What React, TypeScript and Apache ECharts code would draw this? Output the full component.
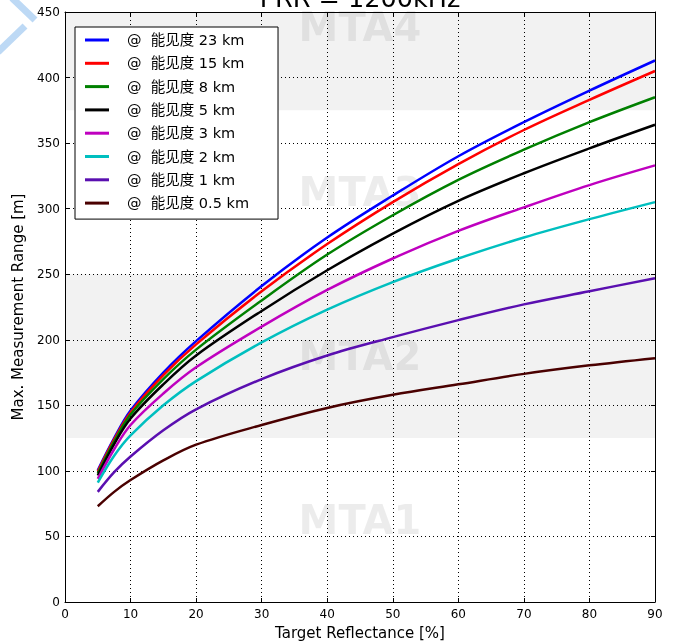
import React, { useEffect, useRef } from "react";
import * as echarts from "echarts";

const reflectance = [5, 7.5, 10, 15, 20, 30, 40, 50, 60, 70, 80, 90];
const vis23 = [100.5, 125, 146, 175, 199, 241, 278, 310, 340, 366, 390, 413];
const vis15 = [99.5, 124, 144.5, 173, 196.5, 237, 273, 305, 334, 360, 383, 405];
const vis8 = [98, 122.5, 143, 170, 192.5, 230, 265, 295, 322, 345, 366, 385];
const vis5 = [96.5, 120.5, 140, 166, 188, 222, 253, 281, 306, 327, 346, 364];
const vis3 = [94, 116.5, 135, 159, 179, 210, 238, 262, 283, 301, 318, 333];
const vis2 = [91, 111.5, 127, 150, 168.5, 198, 223, 244, 262, 278, 292, 305];
const vis1 = [84, 99, 111, 131, 147, 170, 188, 202, 215, 227, 237, 247];
const vis05 = [73, 84, 93, 108, 120, 135, 148, 158, 166, 174, 180.5, 186];

const visLabels = ["23", "15", "8", "5", "3", "2", "1", "0.5"];
const seriesValues = [vis23, vis15, vis8, vis5, vis3, vis2, vis1, vis05];
const seriesColors = ["#0000ff", "#ff0000", "#008000", "#000000", "#bf00bf", "#00bfbf", "#5a0fb0", "#4a0000"];

const bandEdges = [0, 125, 250, 375, 450];
const bandNames = ["MTA1", "MTA2", "MTA3", "MTA4"];
const bandShaded = [false, true, false, true];
const bandLabelShift = [0, 0, 0, -34];

const FONT = "DejaVu Sans";

export default function App() {
  const ref = useRef<HTMLDivElement>(null);
  useEffect(() => {
    if (!ref.current) return;
    const chart = echarts.init(ref.current, null, { renderer: "svg" });
    const names = visLabels.map((v) => `@  能见度 ${v} km`);
    const dataSeries = seriesValues.map((vals, i) => ({
      type: "line",
      name: names[i],
      data: reflectance.map((x, j) => [x, vals[j]]),
      showSymbol: false,
      smooth: 0.35,
      z: 3,
      lineStyle: { color: seriesColors[i], width: 2.5 },
      itemStyle: { color: seriesColors[i] },
    }));
    const markAreaData = bandNames.map((n, i) => [
      {
        name: n,
        yAxis: bandEdges[i],
        itemStyle: { color: bandShaded[i] ? "#f2f2f2" : "rgba(0,0,0,0)" },
        label: { offset: [0, bandLabelShift[i]] },
      },
      { yAxis: bandEdges[i + 1] },
    ]);
    const axisCommonX = {
      type: "value",
      min: 0,
      max: 90,
      interval: 10,
      z: 1,
      axisLine: { show: true, onZero: false, lineStyle: { color: "#000", width: 1 } },
      axisTick: { show: true, inside: true, length: 4, lineStyle: { color: "#000" } },
    };
    const axisCommonY = {
      type: "value",
      min: 0,
      max: 450,
      interval: 50,
      z: 1,
      axisLine: { show: true, onZero: false, lineStyle: { color: "#000", width: 1 } },
      axisTick: { show: true, inside: true, length: 4, lineStyle: { color: "#000" } },
    };
    chart.setOption({
      animation: false,
      textStyle: { fontFamily: FONT },
      grid: { left: 65, right: 21, top: 12, bottom: 41, outerBoundsMode: "none" },
      xAxis: [
        {
          ...axisCommonX,
          position: "bottom",
          name: "Target Reflectance [%]",
          nameLocation: "middle",
          nameGap: 23,
          nameTextStyle: { fontSize: 15, color: "#000", fontFamily: FONT },
          axisLabel: { color: "#000", fontSize: 12, margin: 6, fontFamily: FONT },
          splitLine: { show: true, lineStyle: { color: "#000", type: [1, 3], width: 1 } },
        },
        {
          ...axisCommonX,
          position: "top",
          axisLabel: { show: false },
          splitLine: { show: false },
        },
      ],
      yAxis: [
        {
          ...axisCommonY,
          position: "left",
          name: "Max. Measurement Range [m]",
          nameLocation: "middle",
          nameGap: 40,
          nameTextStyle: { fontSize: 15, color: "#000", fontFamily: FONT },
          axisLabel: { color: "#000", fontSize: 12, margin: 5, fontFamily: FONT },
          splitLine: { show: true, lineStyle: { color: "#000", type: [1, 3], width: 1 } },
        },
        {
          ...axisCommonY,
          position: "right",
          axisLabel: { show: false },
          splitLine: { show: false },
        },
      ],
      legend: {
        data: names,
        orient: "vertical",
        left: 75,
        top: 27,
        padding: [4, 29, 7, 10],
        itemGap: 5.3,
        itemWidth: 24,
        itemHeight: 3,
        icon: "rect",
        backgroundColor: "#fff",
        borderColor: "#000",
        borderWidth: 1,
        borderRadius: 0,
        textStyle: {
          fontSize: 14.5,
          lineHeight: 18,
          color: "#000",
          fontFamily: `${FONT}, Noto Sans CJK SC`,
          padding: [0, 0, 0, 13],
        },
      },
      graphic: [
        {
          type: "text",
          x: 360,
          y: 11,
          style: {
            text: "PRR = 1200kHz",
            font: `25.5px ${FONT}`,
            fill: "#000",
            textAlign: "center",
            textVerticalAlign: "bottom",
          },
        },
        {
          type: "line",
          shape: { x1: 12, y1: -2, x2: 35, y2: 20 },
          style: { stroke: "#bdd9f5", lineWidth: 7 },
        },
        {
          type: "line",
          shape: { x1: 25, y1: 26, x2: -2, y2: 52 },
          style: { stroke: "#bdd9f5", lineWidth: 7 },
        },
      ],
      series: [
        {
          type: "line",
          name: "bands",
          data: [],
          z: 0,
          silent: true,
          markArea: {
            silent: true,
            z: 0,
            label: {
              show: true,
              position: "inside",
              formatter: "{b}",
              fontSize: 40,
              fontWeight: "bold",
              fontFamily: FONT,
              color: "rgba(0,0,0,0.075)",
            },
            data: markAreaData,
          },
        },
        ...dataSeries,
      ],
    });
    return () => chart.dispose();
  }, []);
  return (
    <div
      ref={ref}
      style={{ position: "fixed", left: 0, top: 0, width: 676, height: 643 }}
    />
  );
}
